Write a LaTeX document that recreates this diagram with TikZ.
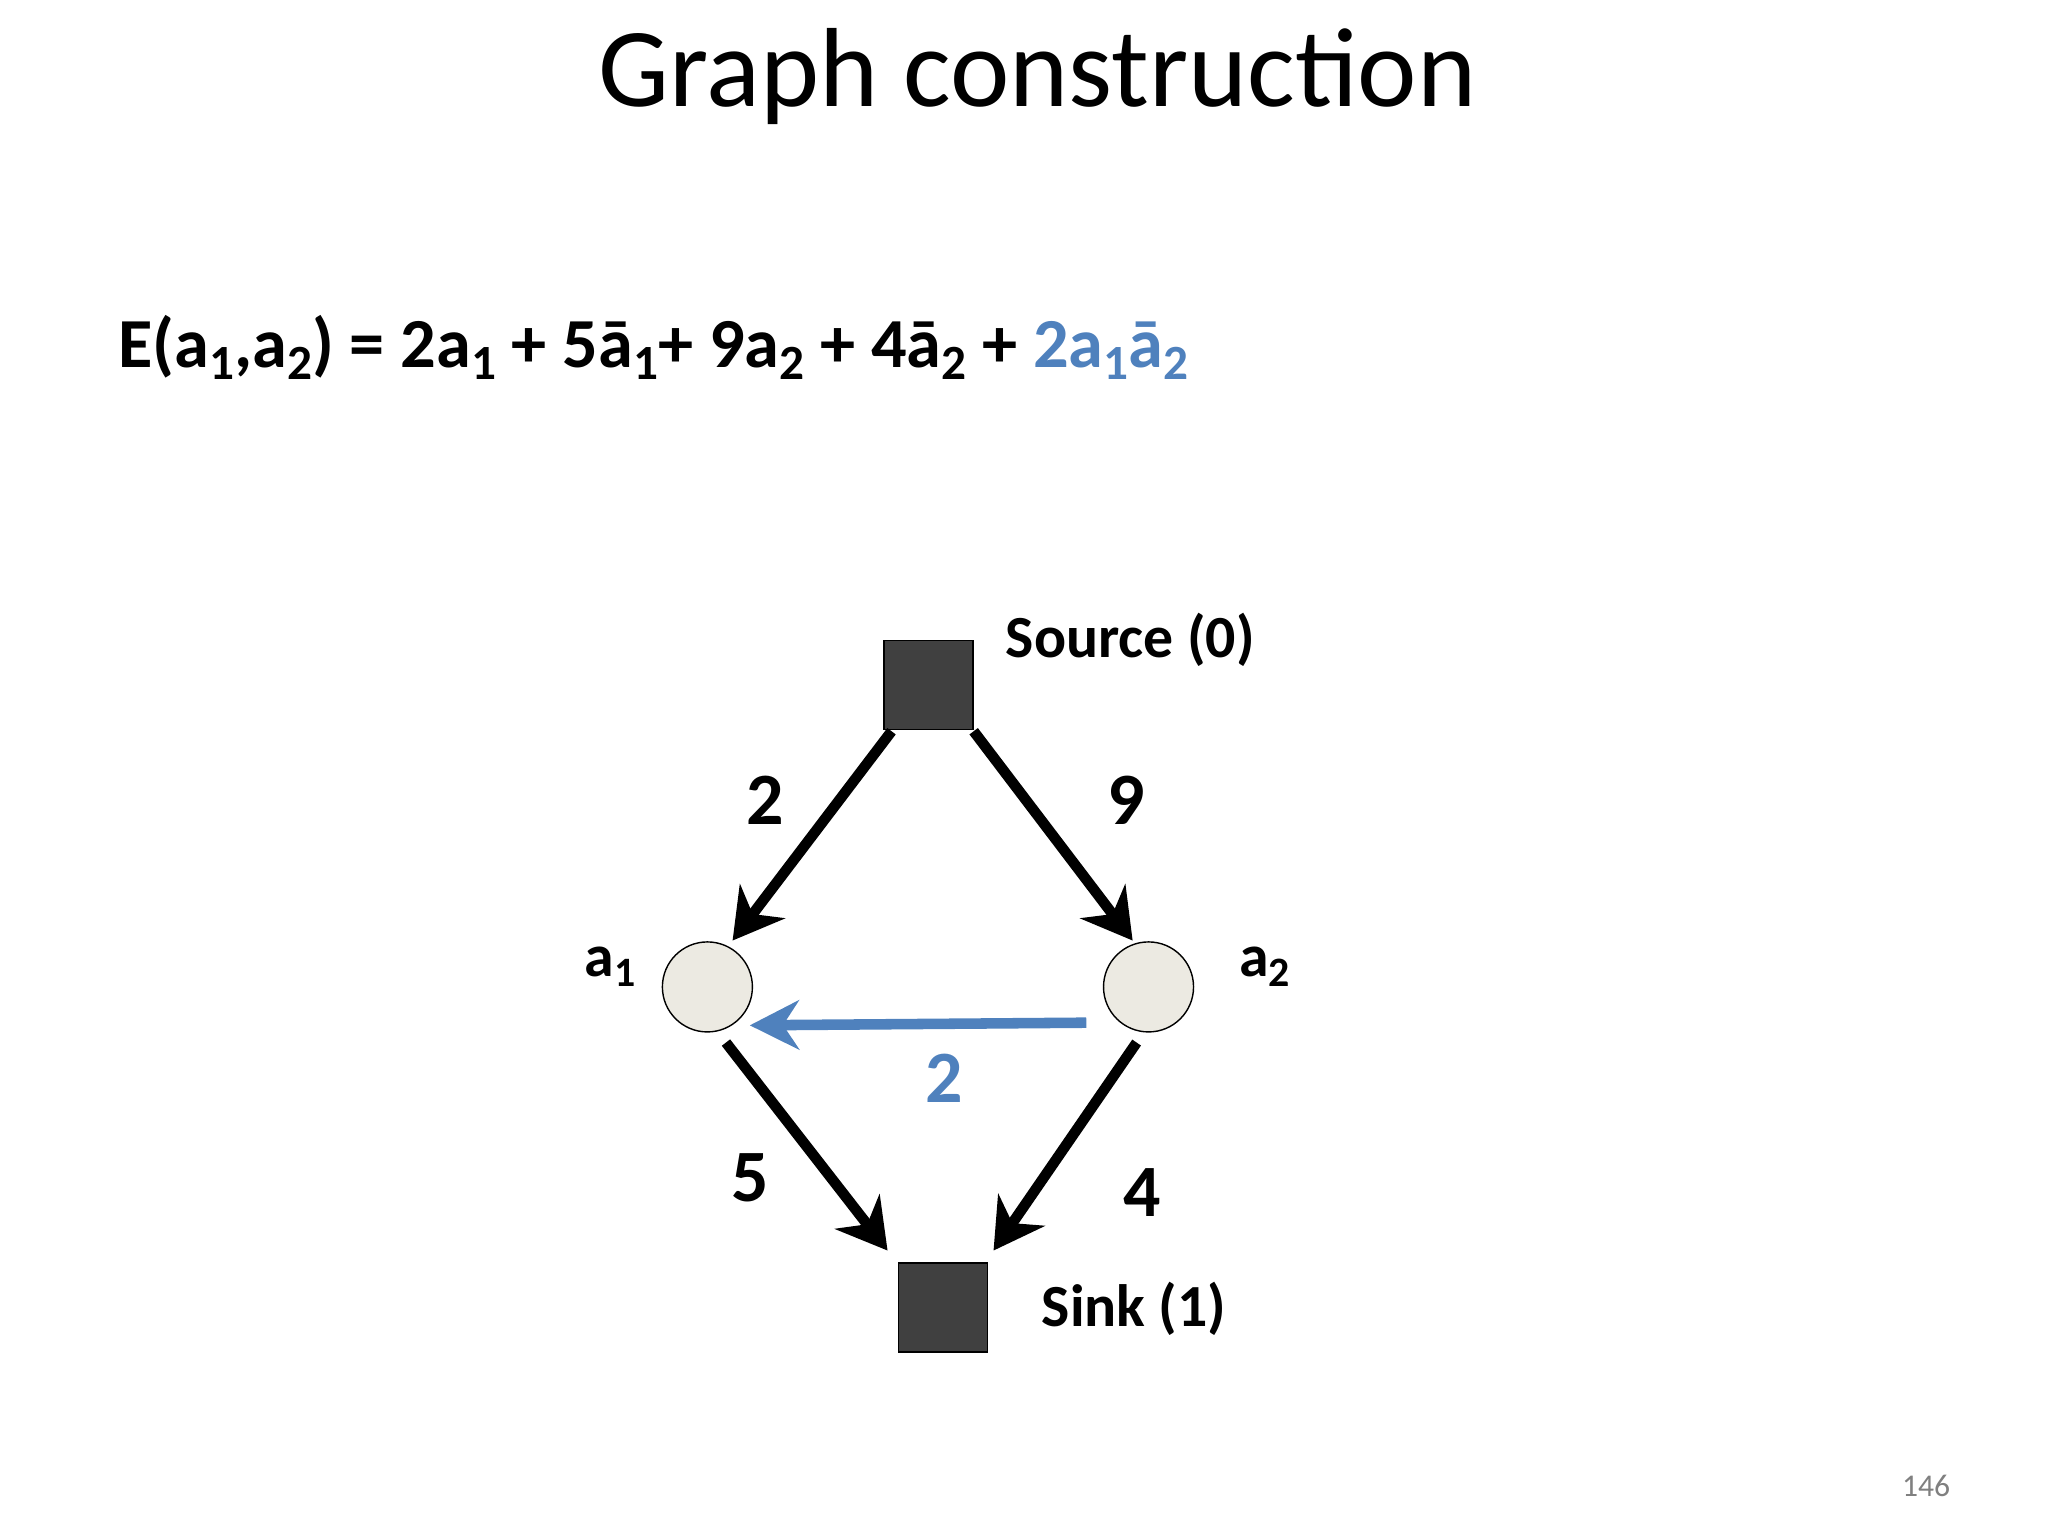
\documentclass[tikz,border=0pt]{standalone}
\usepackage{fontspec}
\setmainfont{Carlito}
\usetikzlibrary{arrows.meta}
\definecolor{boxgray}{HTML}{404040}
\definecolor{nodefill}{HTML}{ECEAE2}
\definecolor{myblue}{HTML}{4F81BD}
\newcommand{\sbs}[1]{\raisebox{-0.35ex}{\scalebox{0.7}{#1}}}
\tikzset{
  term/.style={draw=black,fill=boxgray,minimum size=0.89cm,inner sep=0pt},
  var/.style={circle,draw=black,fill=nodefill,minimum size=0.9cm,inner sep=0pt},
  edge/.style={line width=3pt,-{Stealth[length=14pt,width=16pt]}},
  bedge/.style={line width=3pt,myblue,-{Stealth[length=14pt,width=14pt]}},
  lab/.style={font=\bfseries\fontsize{17}{20}\selectfont,anchor=west},
  num/.style={font=\bfseries\fontsize{21}{24}\selectfont}
}
\begin{document}
\begin{tikzpicture}[x=0.01325cm,y=-0.01325cm]
\useasboundingbox (0,0) rectangle (1546,1160);
\node (title) at (783,58) {\fontsize{32}{38}\selectfont Graph construction};
\node[anchor=west] (eq) at (80,262) {\bfseries\fontsize{20}{24}\selectfont E(a\sbs{1},a\sbs{2}) = 2a\sbs{1} + 5\=a\sbs{1}+ 9a\sbs{2} + 4\=a\sbs{2} + \textcolor{myblue}{2a\sbs{1}\=a\sbs{2}}};
\node[term] (src) at (701,517) {};
\node[term] (snk) at (712,987) {};
\node[var] (a1) at (534,745) {};
\node[var] (a2) at (867,745) {};
\node[lab] (srcl) at (750,483) {Source (0)};
\node[lab] (snkl) at (777,988) {Sink (1)};
\node[lab] (a1l) at (432,730) {a\sbs{1}};
\node[lab] (a2l) at (926,730) {a\sbs{2}};
\coordinate (s1) at (673,552); \coordinate (e1) at (553,710);
\coordinate (s2) at (735,552); \coordinate (e2) at (855,710);
\coordinate (s3) at (548,787); \coordinate (e3) at (670,944);
\coordinate (s4) at (858,787); \coordinate (e4) at (750,944);
\coordinate (s5) at (820,772); \coordinate (e5) at (566,774);
\draw[edge] (s1) -- (e1);
\draw[edge] (s2) -- (e2);
\draw[edge] (s3) -- (e3);
\draw[edge] (s4) -- (e4);
\draw[bedge] (s5) -- (e5);
\node[num] (n2) at (578,604) {2};
\node[num] (n9) at (850,604) {9};
\node[num] (n5) at (566,889) {5};
\node[num] (n4) at (862,900) {4};
\node[num,myblue] (nb) at (713,814) {2};
\node[text=gray,font=\fontsize{9}{11}\selectfont] (pg) at (1454,1122) {146};
\end{tikzpicture}
\end{document}
